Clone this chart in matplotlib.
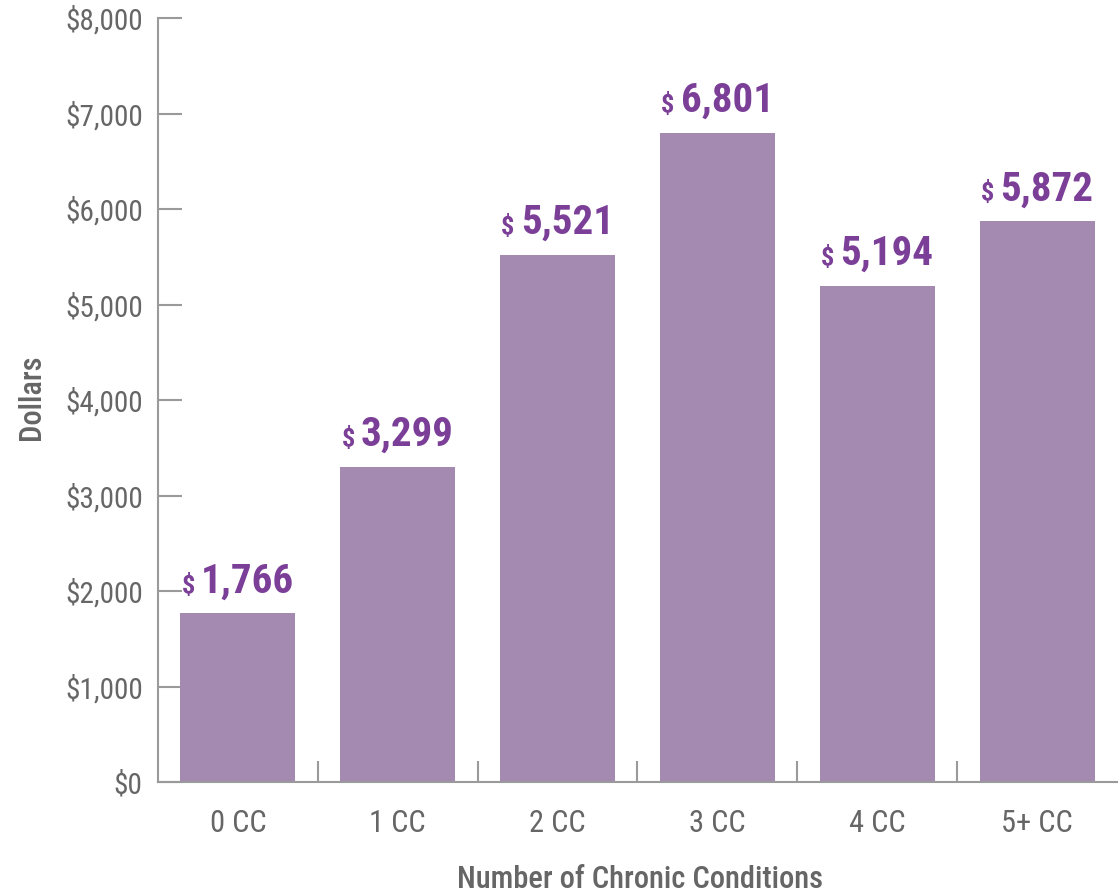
import matplotlib.pyplot as plt

# Data
categories = ["0 CC", "1 CC", "2 CC", "3 CC", "4 CC", "5+ CC"]
values = [1766, 3299, 5521, 6801, 5194, 5872]
yticks = [0, 1000, 2000, 3000, 4000, 5000, 6000, 7000, 8000]

plt.rcParams['font.family'] = ['Roboto Condensed', 'DejaVu Sans']

bar_color = "#a489b0"
label_color = "#7b3f98"
text_gray = "#666666"
axis_gray = "#9a9a9a"

W, H = 1119, 894
fig = plt.figure(figsize=(W / 100, H / 100), dpi=100)
ax = fig.add_axes([158 / W, 1 - 782 / H, (1117 - 158) / W, (782 - 18) / H])

x = range(len(categories))
ax.bar(x, values, width=0.72, color=bar_color, zorder=2)

ax.set_xlim(-0.5, len(categories) - 0.5)
ax.set_ylim(0, 8000)

# spines
for s in ["top", "right"]:
    ax.spines[s].set_visible(False)
for s in ["left", "bottom"]:
    ax.spines[s].set_color(axis_gray)
    ax.spines[s].set_linewidth(1.5)

# y ticks point inward
ax.set_yticks(yticks)
ax.set_yticklabels([f"${v:,}" for v in yticks], fontsize=21, color=text_gray)
ax.tick_params(axis="y", direction="in", length=17, width=1.5, color=axis_gray, pad=11)

# x ticks between bars, category labels centered
ax.set_xticks([i + 0.5 for i in range(len(categories) - 1)])
ax.set_xticklabels([])
ax.tick_params(axis="x", direction="in", length=15, width=1.5, color=axis_gray)
for i, c in enumerate(categories):
    ax.text(i, -280, c, ha="center", va="top", fontsize=22, color=text_gray)

fig.text(640 / W, 1 - 879 / H, "Number of Chronic Conditions", ha="center", va="center",
         fontsize=22, fontweight="medium", color=text_gray)
fig.text(31 / W, 1 - 397 / H, "Dollars", ha="center", va="center", rotation=90,
         fontsize=22, fontweight="medium", color=text_gray)

# value labels: small "$" then large bold number, group centered over bar
fig.canvas.draw()
renderer = fig.canvas.get_renderer()
gap = 6  # px between "$" and number
for i, v in enumerate(values):
    num = ax.annotate(f"{v:,}", (i, v), xytext=(0, 15), textcoords="offset points",
                      ha="left", va="baseline", fontsize=29.5, fontweight="bold",
                      color=label_color)
    dol = ax.annotate("$", (i, v), xytext=(0, 15), textcoords="offset points",
                      ha="left", va="baseline", fontsize=19, fontweight="bold",
                      color=label_color)
    wn = num.get_window_extent(renderer).width
    wd = dol.get_window_extent(renderer).width
    total = wd + gap + wn
    px_to_pt = 72 / fig.dpi
    dol.set_position((-total / 2 * px_to_pt, 15))
    num.set_position(((-total / 2 + wd + gap) * px_to_pt, 15))

fig.savefig("out.png", dpi=100)
